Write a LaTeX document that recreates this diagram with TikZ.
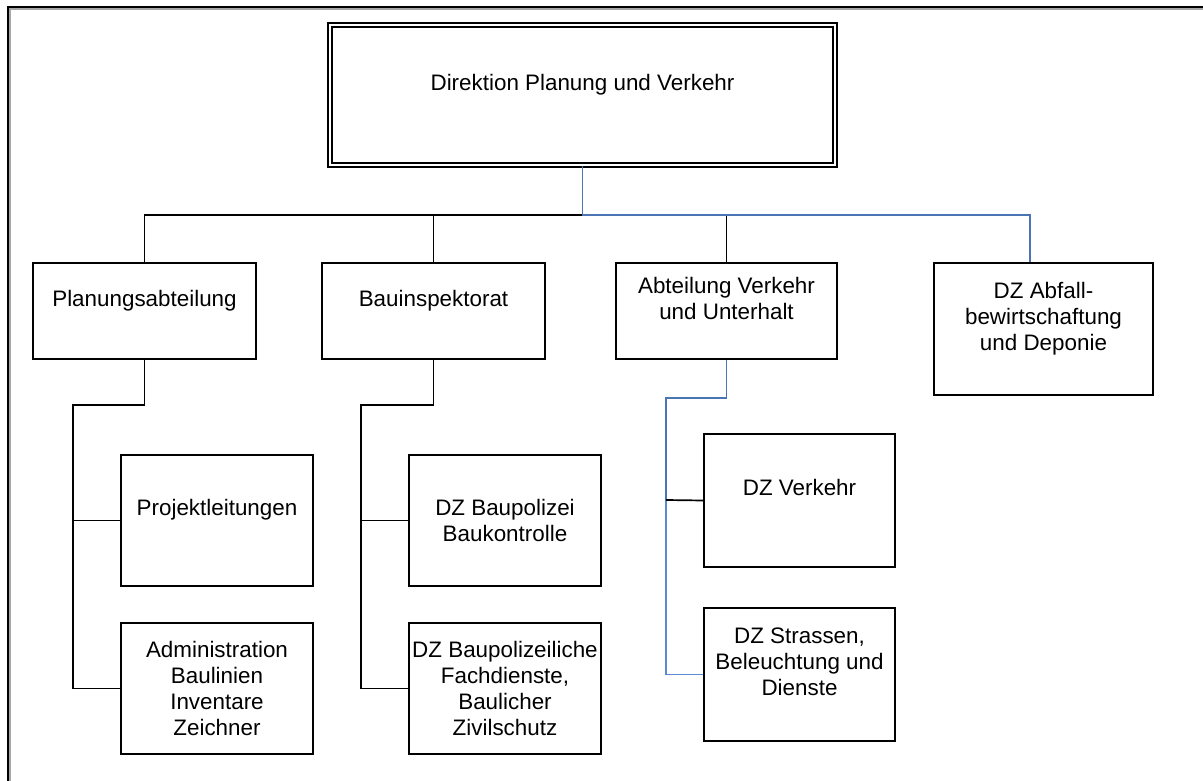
\documentclass[tikz,border=0pt]{standalone}
\usepackage{fontspec}
\setmainfont{Liberation Sans}
\definecolor{linkblue}{HTML}{4A74B4}
\definecolor{linkblue2}{HTML}{5A8AD2}
\begin{document}
\begin{tikzpicture}[x=1pt,y=-1pt,
  box/.style={draw=black,line width=1.7pt,fill=white,align=center,inner sep=1pt,
    font=\fontsize{22.4}{26}\selectfont},
  conn/.style={line width=1.7pt,black},
  bconn/.style={line width=1.7pt,color=linkblue},
  bconnlight/.style={line width=1.4pt,color=linkblue2}]
\useasboundingbox (0,0) rectangle (1203,781);
\fill[white] (0,0) rectangle (1203,781);
% outer frame
\draw[line width=2.5pt, black!35] (9.8,781) -- (9.8,8.8) -- (1203,8.8);
\draw[line width=1.9pt] (8,781) -- (8,7) -- (1203,7);

% top
\node[box, double, double distance=1.8pt, line width=1.7pt,
  minimum width=505pt, minimum height=140pt] (top) at (582.5,95) {Direktion Planung und Verkehr\\~};

% level 2
\node[box, minimum width=223pt, minimum height=96pt] (pa) at (144.5,311) {Planungsabteilung\\~};
\node[box, minimum width=223pt, minimum height=96pt] (bi) at (433.5,311) {Bauinspektorat\\~};
\node[box, minimum width=221pt, minimum height=96pt] (av) at (726.5,311) {Abteilung Verkehr\\und Unterhalt\\~};
\node[box, minimum width=219pt, minimum height=132pt] (dza) at (1043.5,329) {DZ Abfall-\\bewirtschaftung\\und Deponie\\~};

% level 3
\node[box, minimum width=192pt, minimum height=131pt] (pl) at (217,520.5) {Projektleitungen\\~};
\node[box, minimum width=192pt, minimum height=131pt] (adm) at (217,688.5) {Administration\\Baulinien\\Inventare\\Zeichner};
\node[box, minimum width=192pt, minimum height=131pt] (bp) at (505,520.5) {DZ Baupolizei\\Baukontrolle};
\node[box, minimum width=192pt, minimum height=131pt] (bpf) at (505,688.5) {DZ Baupolizeiliche\\Fachdienste,\\Baulicher\\Zivilschutz};
\node[box, minimum width=191pt, minimum height=133pt] (dzv) at (799.5,500.5) {DZ Verkehr\\~};
\node[box, minimum width=191pt, minimum height=133pt] (dzs) at (799.5,674.5) {DZ Strassen,\\Beleuchtung und\\Dienste\\~};

% bus coordinates
\coordinate (bus) at (582.5,215);
\coordinate (ab) at (1030,215);
\coordinate (pbus) at (73,405);
\coordinate (bbus) at (361,405);
\coordinate (vbus) at (666,398);
\coordinate (vbr) at (666,500);

% connectors level 1 -> 2
\draw[conn] (pa.north) |- (bus);
\draw[conn] (bi.north) -- (bi.north |- bus);
\draw[conn] (av.north) -- (av.north |- bus);
\draw[bconn] (top.south) -- (bus) -- (ab) -- (ab |- dza.north);

% Planungsabteilung
\draw[conn] (pa.south) |- (pbus) |- (adm.west);
\draw[conn] (pl.west) -- (pl.west -| pbus);
% Bauinspektorat
\draw[conn] (bi.south) |- (bbus) |- (bpf.west);
\draw[conn] (bp.west) -- (bp.west -| bbus);
% Abteilung Verkehr
\draw[bconn] (av.south) |- (vbus) -- (vbr);
\draw[bconnlight] (vbr) |- (dzs.west);
\draw[conn] (vbr) -- (dzv.west);
\end{tikzpicture}
\end{document}
